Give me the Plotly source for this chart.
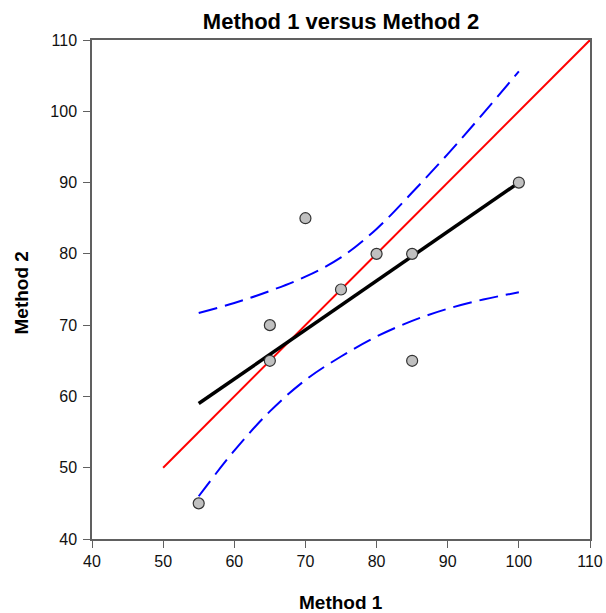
import plotly.graph_objects as go

# Paired measurements
method1 = [55, 65, 65, 70, 75, 80, 85, 85, 100]
method2 = [45, 65, 70, 85, 75, 80, 80, 65, 90]

# Fitted regression line (endpoints)
fit_x = [55, 100]
fit_y = [59, 90]

# Confidence band around the fit
band_x = [55, 60, 65, 70, 75, 80, 85, 90, 95, 100]
band_upper = [71.7, 73.1, 74.8, 76.8, 79.5, 83.5, 88.6, 94.0, 99.7, 105.6]
band_lower = [46.0, 52.4, 57.9, 62.3, 65.6, 68.4, 70.6, 72.3, 73.6, 74.6]

# Line of identity
ident = [50, 110]

# Axis ticks
ticks = [40, 50, 60, 70, 80, 90, 100, 110]

FONT = "Arial, Liberation Sans, sans-serif"

fig = go.Figure()

fig.add_trace(go.Scatter(x=ident, y=ident, mode="lines",
                         line=dict(color="#ff0000", width=2), hoverinfo="skip"))
fig.add_trace(go.Scatter(x=band_x, y=band_upper, mode="lines", line_shape="spline",
                         line=dict(color="#0000ff", width=2, dash="19px,8px")))
fig.add_trace(go.Scatter(x=band_x, y=band_lower, mode="lines", line_shape="spline",
                         line=dict(color="#0000ff", width=2, dash="19px,8px")))
fig.add_trace(go.Scatter(x=fit_x, y=fit_y, mode="lines",
                         line=dict(color="#000000", width=3.5)))
fig.add_trace(go.Scatter(x=method1, y=method2, mode="markers",
                         marker=dict(size=11, color="#c0c0c0",
                                     line=dict(color="#333333", width=1.2))))

axis_common = dict(
    range=[40, 110], tickvals=ticks, ticks="outside", ticklen=7, tickwidth=1.2,
    tickcolor="#606060", showline=True, linecolor="#606060", linewidth=1.5,
    mirror=True, showgrid=False, zeroline=False, automargin=False,
    tickfont=dict(family=FONT, size=16, color="#111111"),
)

fig.update_layout(
    width=606, height=613,
    margin=dict(l=92, r=16, t=40, b=74),
    paper_bgcolor="white", plot_bgcolor="white",
    showlegend=False,
    title=dict(text="<b>Method 1 versus Method 2</b>", x=0.5, xref="paper",
               xanchor="center", y=1 - 21 / 613, yanchor="middle", yref="container",
               font=dict(family=FONT, size=22, color="#000000")),
    xaxis=dict(**axis_common),
    yaxis=dict(**axis_common, ticklabelstandoff=3),
    annotations=[
        dict(text="<b>Method 1</b>", xref="paper", yref="paper", x=0.5, y=0,
             xanchor="center", yanchor="middle", yshift=-63, showarrow=False,
             font=dict(family=FONT, size=19, color="#000000")),
        dict(text="<b>Method 2</b>", xref="paper", yref="paper", x=0, y=0.5,
             xanchor="center", yanchor="middle", xshift=-71, yshift=-4,
             textangle=-90, showarrow=False,
             font=dict(family=FONT, size=19, color="#000000")),
    ],
)

fig.write_html("out.html")
